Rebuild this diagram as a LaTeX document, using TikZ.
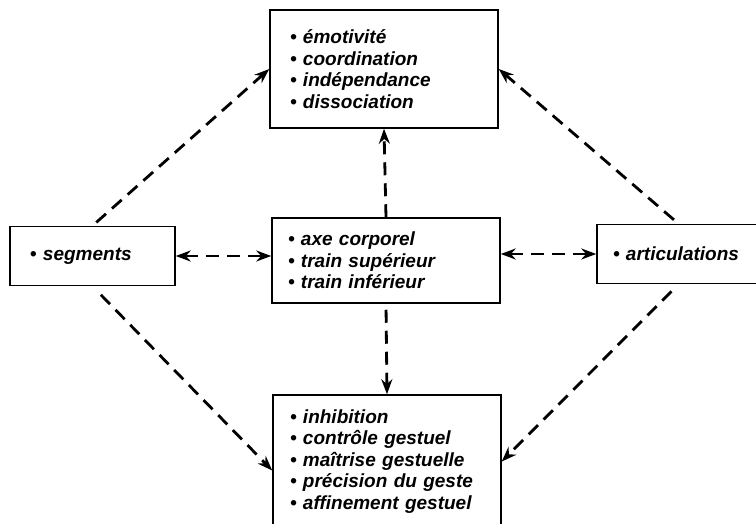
\documentclass[tikz,border=0pt]{standalone}
\usepackage{fontspec}
\setmainfont{Liberation Sans}
\usetikzlibrary{arrows.meta}

\begin{document}
\begin{tikzpicture}
[
    x=1pt, y=-1pt,
    boite/.style={draw, line width=1.5pt, align=left, inner sep=0pt,
        font=\fontsize{19}{21.5}\selectfont\bfseries\itshape},
    fleche/.style={line width=2.8pt, dash pattern=on 13pt off 8pt,
        -{Stealth[length=15pt,width=11pt]}},
    double/.style={fleche, {Stealth[length=15pt,width=11pt]}-{Stealth[length=15pt,width=11pt]}},
]
\useasboundingbox (0,0) rectangle (756,524);
\node [boite, minimum width=228pt, minimum height=118pt, text width=188pt]
    (haut) at (384,69)
    {\textbullet~émotivité\\ \textbullet~coordination\\ \textbullet~indépendance\\ \textbullet~dissociation};
\node [boite, minimum width=228pt, minimum height=85pt, text width=196pt]
    (milieu) at (386,260.5)
    {\textbullet~axe corporel\\ \textbullet~train supérieur\\ \textbullet~train inférieur};
\node [boite, minimum width=165pt, minimum height=59pt, text width=125pt]
    (segments) at (92.5,256)
    {\textbullet~segments};
\node [boite, minimum width=163pt, minimum height=59pt, text width=131pt]
    (articulations) at (678.5,254)
    {\textbullet~articulations};
\node [boite, minimum width=228pt, minimum height=133pt, text width=194pt]
    (bas) at (387,461.5)
    {\textbullet~inhibition\\ \textbullet~contrôle gestuel\\ \textbullet~maîtrise gestuelle\\ \textbullet~précision du geste\\ \textbullet~affinement gestuel};
% liaisons
\draw [double] (segments.east) -- (segments.east -| milieu.west);
\draw [double] (articulations.west -| milieu.east) -- (articulations.west);
\draw [fleche] (milieu.north) -- (haut.south);
\draw [fleche, shorten <=6pt] (milieu.south) -- (bas.north);
\draw [fleche, shorten <=5pt] (segments.north) -- (haut.west);
\draw [fleche, shorten <=6pt] (articulations.north) -- (haut.east);
\draw [fleche, shorten <=12pt] (segments.south) -- ([yshift=-9pt]bas.west);
\draw [fleche, shorten <=10pt] (articulations.south) -- (bas.east);
\end{tikzpicture}
\end{document}
